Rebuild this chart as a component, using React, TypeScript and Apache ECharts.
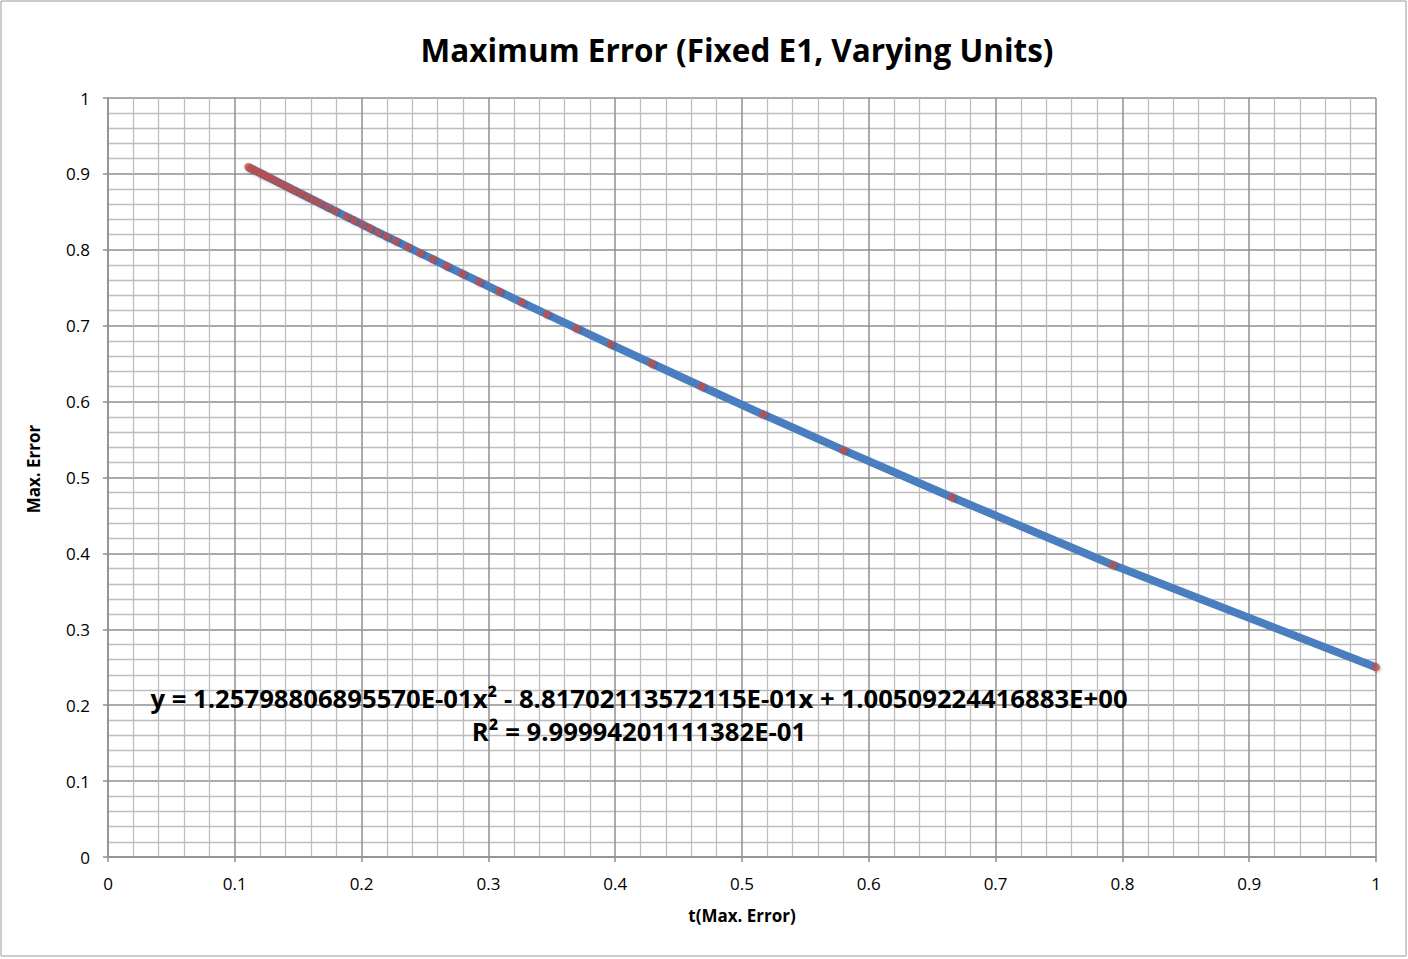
import React, { useEffect, useRef } from "react";
import * as echarts from "echarts";

const titleText = "Maximum Error (Fixed E1, Varying Units)";
const xAxisName = "t(Max. Error)";
const yAxisName = "Max. Error";
const equationLine1 = "y = 1.25798806895570E-01x² - 8.81702113572115E-01x + 1.00509224416883E+00";
const equationLine2 = "R² = 9.99994201111382E-01";

const tValues = [
  0.1106, 0.1125, 0.115, 0.118, 0.121, 0.124, 0.127, 0.131, 0.135, 0.139,
  0.143, 0.147, 0.152, 0.157, 0.162, 0.167, 0.173, 0.179, 0.1883, 0.194,
  0.2006, 0.2066, 0.2132, 0.2198, 0.2271, 0.2366, 0.246, 0.2561, 0.2671,
  0.2797, 0.2928, 0.3086, 0.3263, 0.346, 0.3696, 0.3964, 0.4288, 0.4682,
  0.5168, 0.58, 0.6656, 0.7926, 1.0,
];
const maxErrorValues = [
  0.9092, 0.9075, 0.9054, 0.9028, 0.9003, 0.8977, 0.8952, 0.8918, 0.8884, 0.885,
  0.8816, 0.8782, 0.874, 0.8698, 0.8656, 0.8614, 0.8563, 0.8513, 0.8435, 0.8388,
  0.8333, 0.8283, 0.8228, 0.8174, 0.8114, 0.8035, 0.7958, 0.7876, 0.7786,
  0.7683, 0.7577, 0.745, 0.7308, 0.7151, 0.6964, 0.6754, 0.6502, 0.6199,
  0.583, 0.536, 0.474, 0.3847, 0.25,
];

const FONT = "'Open Sans', 'Noto Sans', sans-serif";

export default function App() {
  const ref = useRef<HTMLDivElement>(null);
  useEffect(() => {
    if (!ref.current) return;
    const chart = echarts.init(ref.current, null, { renderer: "svg" });
    const data = tValues.map((t, i) => [t, maxErrorValues[i]]);
    const axisCommon = {
      type: "value" as const,
      min: 0,
      max: 1,
      interval: 0.1,
      axisLine: { show: true, lineStyle: { color: "#8f8f8f", width: 1.5 } },
      axisTick: { show: true, inside: false, length: 5, lineStyle: { color: "#8f8f8f", width: 1.5 } },
      splitLine: { show: true, lineStyle: { color: "#8f8f8f", width: 1.5 } },
      minorTick: { show: false, splitNumber: 5 },
      minorSplitLine: { show: true, lineStyle: { color: "#bdbdbd", width: 1.3 } },
      axisLabel: { color: "#000", fontFamily: FONT, fontSize: 17, margin: 18 },
    };
    chart.setOption({
      animation: false,
      backgroundColor: "#fff",
      grid: { left: 108, top: 98, right: 32, bottom: 102, containLabel: false },
      xAxis: {
        ...axisCommon,
        name: xAxisName,
        nameLocation: "middle",
        nameGap: 50,
        nameTextStyle: { fontFamily: FONT, fontSize: 17, fontWeight: "bold", color: "#000" },
      },
      yAxis: {
        ...axisCommon,
      },
      series: [
        {
          type: "line",
          data,
          symbol: "none",
          smooth: false,
          lineStyle: { color: "#4a7ebf", width: 8 },
          z: 2,
        },
        {
          type: "scatter",
          data,
          symbol: "circle",
          symbolSize: 8,
          itemStyle: {
            color: "#c0504d",
            shadowColor: "rgba(0,0,0,0.35)",
            shadowBlur: 3,
            shadowOffsetX: 1,
            shadowOffsetY: 1,
          },
          z: 3,
        },
      ],
      graphic: [
        {
          type: "rect",
          shape: { x: 1, y: 1, width: 1405, height: 955 },
          style: { fill: "none", stroke: "#9a9a9a", lineWidth: 1 },
          silent: true,
          z: -1,
        },
        {
          type: "text",
          x: 737,
          y: 49,
          style: {
            text: titleText,
            fontFamily: FONT,
            fontSize: 31.5,
            fontWeight: "bold",
            fill: "#000",
            textAlign: "center",
            textVerticalAlign: "middle",
          },
          z: 10,
        },
        {
          type: "text",
          x: 33,
          y: 469,
          rotation: Math.PI / 2,
          style: {
            text: yAxisName,
            fontFamily: FONT,
            fontSize: 17,
            fontWeight: "bold",
            fill: "#000",
            textAlign: "center",
            textVerticalAlign: "middle",
          },
          z: 10,
        },
        {
          type: "text",
          x: 639,
          y: 698,
          style: {
            text: equationLine1,
            fontFamily: FONT,
            fontSize: 25.7,
            fontWeight: "bold",
            fill: "#000",
            textAlign: "center",
            textVerticalAlign: "middle",
          },
          z: 10,
        },
        {
          type: "text",
          x: 639,
          y: 731,
          style: {
            text: equationLine2,
            fontFamily: FONT,
            fontSize: 25.7,
            fontWeight: "bold",
            fill: "#000",
            textAlign: "center",
            textVerticalAlign: "middle",
          },
          z: 10,
        },
      ],
    });
    return () => chart.dispose();
  }, []);
  return (
    <div
      ref={ref}
      style={{ position: "fixed", left: 0, top: 0, width: 1408, height: 959 }}
    />
  );
}
